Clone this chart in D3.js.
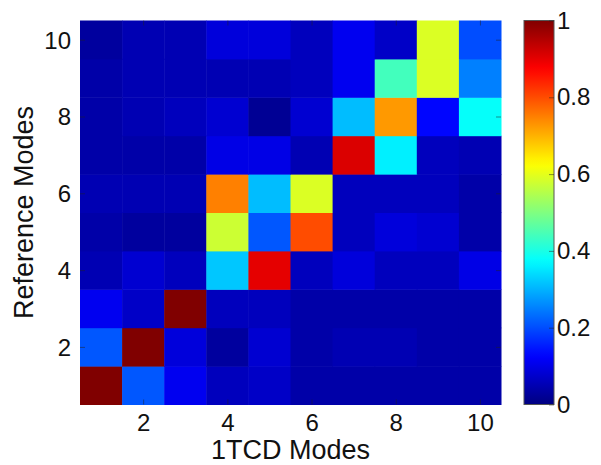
<!DOCTYPE html>
<html>
<head>
<meta charset="utf-8">
<script src="https://cdn.jsdelivr.net/npm/d3@7"></script>
<style>
  body { margin: 0; background: #fff; }
  text { font-family: "Liberation Sans", Arial, sans-serif; fill: #111; }
</style>
</head>
<body>
<div id="container"></div>
<script>
// 1TCD modes along x, reference modes along y
const tcdModes = [1, 2, 3, 4, 5, 6, 7, 8, 9, 10];
const refModes = [1, 2, 3, 4, 5, 6, 7, 8, 9, 10];
const xTicks = [2, 4, 6, 8, 10];
const yTicks = [2, 4, 6, 8, 10];
const cbarTicks = [0, 0.2, 0.4, 0.6, 0.8, 1];

// one row per reference mode (1 at the bottom), values for 1TCD modes 1..10
const ref1  = [1.00, 0.21, 0.11, 0.06, 0.07, 0.04, 0.04, 0.04, 0.04, 0.04];
const ref2  = [0.21, 1.00, 0.09, 0.03, 0.08, 0.04, 0.05, 0.05, 0.04, 0.04];
const ref3  = [0.11, 0.07, 1.00, 0.06, 0.06, 0.04, 0.04, 0.04, 0.04, 0.04];
const ref4  = [0.05, 0.08, 0.06, 0.32, 0.90, 0.06, 0.09, 0.06, 0.06, 0.10];
const ref5  = [0.04, 0.03, 0.03, 0.575, 0.21, 0.80, 0.06, 0.09, 0.08, 0.04];
const ref6  = [0.05, 0.05, 0.05, 0.75, 0.31, 0.59, 0.06, 0.06, 0.06, 0.04];
const ref7  = [0.04, 0.04, 0.04, 0.10, 0.10, 0.05, 0.91, 0.36, 0.06, 0.05];
const ref8  = [0.04, 0.05, 0.06, 0.08, 0.02, 0.08, 0.31, 0.725, 0.13, 0.38];
const ref9  = [0.04, 0.05, 0.05, 0.05, 0.05, 0.06, 0.11, 0.44, 0.59, 0.25];
const ref10 = [0.03, 0.05, 0.05, 0.09, 0.09, 0.06, 0.11, 0.07, 0.59, 0.20];
const rows = [ref1, ref2, ref3, ref4, ref5, ref6, ref7, ref8, ref9, ref10];

//------------------------SVG PREPARATION------------------------//
const width = 601;
const height = 465;
const plot = { left: 80, right: 501, top: 20.5, bottom: 404.5 };
const cbar = { left: 524, right: 554 };

const svg = d3.select('div#container').append('svg')
    .attr('width', width)
    .attr('height', height);

// MATLAB jet colormap
function jet(v) {
  const c = (x) => Math.max(0, Math.min(1, x));
  const r = c(1.5 - Math.abs(4 * v - 3));
  const g = c(1.5 - Math.abs(4 * v - 2));
  const b = c(1.5 - Math.abs(4 * v - 1));
  return d3.rgb(r * 255, g * 255, b * 255).formatHex();
}

const x = d3.scaleLinear().domain([0.5, 10.5]).range([plot.left, plot.right]);
const y = d3.scaleLinear().domain([0.5, 10.5]).range([plot.bottom, plot.top]);
const cy = d3.scaleLinear().domain([0, 1]).range([plot.bottom, plot.top]);

//---------------------------HEAT MAP---------------------------//
const cells = [];
rows.forEach((row, i) => {
  row.forEach((val, j) => {
    cells.push({ tcd: tcdModes[j], ref: refModes[i], val: val });
  });
});

svg.append('g').selectAll('rect')
  .data(cells)
  .enter()
  .append('rect')
  .attr('x', (d) => x(d.tcd - 0.5))
  .attr('y', (d) => y(d.ref + 0.5))
  .attr('width', (d) => x(d.tcd + 0.5) - x(d.tcd - 0.5) + 0.5)
  .attr('height', (d) => y(d.ref - 0.5) - y(d.ref + 0.5) + 0.5)
  .attr('fill', (d) => jet(d.val));

// axes (ticks point inwards, like MATLAB)
const tickLen = 5;
const xAxis = svg.append('g')
  .attr('transform', `translate(0,${plot.bottom})`)
  .call(d3.axisBottom(x).tickValues(xTicks).tickSize(-tickLen).tickPadding(9));
const yAxis = svg.append('g')
  .attr('transform', `translate(${plot.left},0)`)
  .call(d3.axisLeft(y).tickValues(yTicks).tickSize(-tickLen).tickPadding(9));
svg.append('g')
  .attr('transform', `translate(0,${plot.top})`)
  .call(d3.axisTop(x).tickValues(xTicks).tickSize(-tickLen).tickFormat(''));
svg.append('g')
  .attr('transform', `translate(${plot.right},0)`)
  .call(d3.axisRight(y).tickValues(yTicks).tickSize(-tickLen).tickFormat(''));

svg.selectAll('.domain').remove();
svg.selectAll('.tick line').attr('stroke', '#222').attr('stroke-opacity', 0.5);
xAxis.selectAll('text').style('font-size', '24px').attr('fill', '#111');
yAxis.selectAll('text').style('font-size', '24px').attr('fill', '#111').attr('dy', '0.35em');

// axis titles
svg.append('text')
  .attr('x', (plot.left + plot.right) / 2)
  .attr('y', 459)
  .attr('text-anchor', 'middle')
  .style('font-size', '27px')
  .text('1TCD Modes');
svg.append('text')
  .attr('transform', `translate(33,${(plot.top + plot.bottom) / 2}) rotate(-90)`)
  .attr('text-anchor', 'middle')
  .style('font-size', '27px')
  .text('Reference Modes');

//---------------------------COLOR BAR---------------------------//
const grad = svg.append('defs').append('linearGradient')
  .attr('id', 'jetgrad')
  .attr('x1', 0).attr('y1', 1).attr('x2', 0).attr('y2', 0);
d3.range(0, 1.0001, 0.02).forEach((t) => {
  grad.append('stop').attr('offset', t).attr('stop-color', jet(t));
});

svg.append('rect')
  .attr('x', cbar.left)
  .attr('y', cy(1))
  .attr('width', cbar.right - cbar.left)
  .attr('height', cy(0) - cy(1))
  .attr('fill', 'url(#jetgrad)')
  .attr('stroke', '#555')
  .attr('stroke-width', 1);

const cAxis = svg.append('g')
  .attr('transform', `translate(${cbar.right},0)`)
  .call(d3.axisRight(cy).tickValues(cbarTicks).tickSize(-tickLen).tickPadding(3)
    .tickFormat((d) => (d === 0 || d === 1) ? d3.format('d')(d) : d3.format('.1f')(d)));
cAxis.select('.domain').remove();
cAxis.selectAll('.tick line').attr('stroke', '#222').attr('stroke-opacity', 0.5);
cAxis.selectAll('text').style('font-size', '24px').attr('fill', '#111');
</script>
</body>
</html>
